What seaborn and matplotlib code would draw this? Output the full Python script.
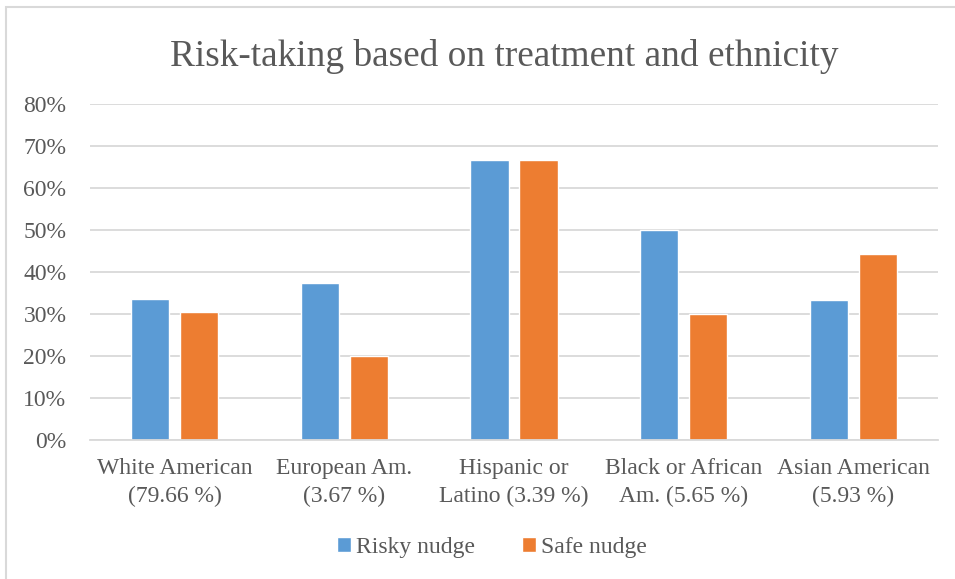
import matplotlib
matplotlib.use("Agg")
import matplotlib.pyplot as plt
import seaborn as sns
import pandas as pd
from matplotlib.patches import Rectangle
from matplotlib.ticker import FuncFormatter

categories = ["White American\n(79.66 %)", "European Am.\n(3.67 %)",
              "Hispanic or\nLatino (3.39 %)", "Black or African\nAm. (5.65 %)",
              "Asian American\n(5.93 %)"]
risky = [33.6, 37.5, 66.7, 50.0, 33.3]
safe = [30.4, 20.0, 66.7, 30.0, 44.4]
series = ["Risky nudge", "Safe nudge"]
colors = ["#5b9bd5", "#ed7d31"]

df = pd.DataFrame({
    "cat": categories * 2,
    "val": risky + safe,
    "series": [series[0]] * 5 + [series[1]] * 5,
})

sns.set_style("white")
plt.rcParams["font.family"] = ["Liberation Serif", "DejaVu Serif"]
txt = "#595959"

W, H = 955, 579
fig = plt.figure(figsize=(W / 100, H / 100), dpi=100)
ax = fig.add_axes([90 / W, 1 - 440 / H, (938 - 90) / W, (440 - 104) / H])

sns.barplot(data=df, x="cat", y="val", hue="series", palette=colors,
            width=0.578, gap=0.224, ax=ax, legend=True, saturation=1)

ax.set_ylim(0, 80)
ax.set_xlim(-0.5, 4.5)
ax.set_yticks(range(0, 81, 10))
ax.yaxis.set_major_formatter(FuncFormatter(lambda v, p: f"{int(v)}%"))
ax.grid(axis="y", color="#d9d9d9", linewidth=1.3)
ax.set_axisbelow(True)
for s in ["top", "right", "left"]:
    ax.spines[s].set_visible(False)
ax.spines["bottom"].set_color("#d9d9d9")
ax.spines["bottom"].set_linewidth(1.3)
ax.tick_params(axis="both", length=0, labelsize=17, colors=txt)
ax.tick_params(axis="y", pad=17)
ax.tick_params(axis="x", pad=13)
for lbl in ax.get_xticklabels():
    lbl.set_linespacing(1.4)
ax.set_xlabel("")
ax.set_ylabel("")

fig.text(504 / W, 1 - 57 / H, "Risk-taking based on treatment and ethnicity",
         ha="center", va="center", fontsize=26.8, color=txt)

leg = ax.legend(loc="center", bbox_to_anchor=(492 / W, 1 - 547 / H),
                bbox_transform=fig.transFigure, ncol=2, frameon=False,
                fontsize=17, handlelength=0.6, handleheight=0.6,
                handletextpad=0.2, columnspacing=2.0)
for t in leg.get_texts():
    t.set_color(txt)

fig.patches.append(Rectangle((6 / W, -0.1), 1.2, 1 - 7 / H + 0.1,
                             transform=fig.transFigure, fill=False,
                             edgecolor="#d9d9d9", linewidth=1.5))

fig.savefig("out.png", dpi=100, facecolor="white")
